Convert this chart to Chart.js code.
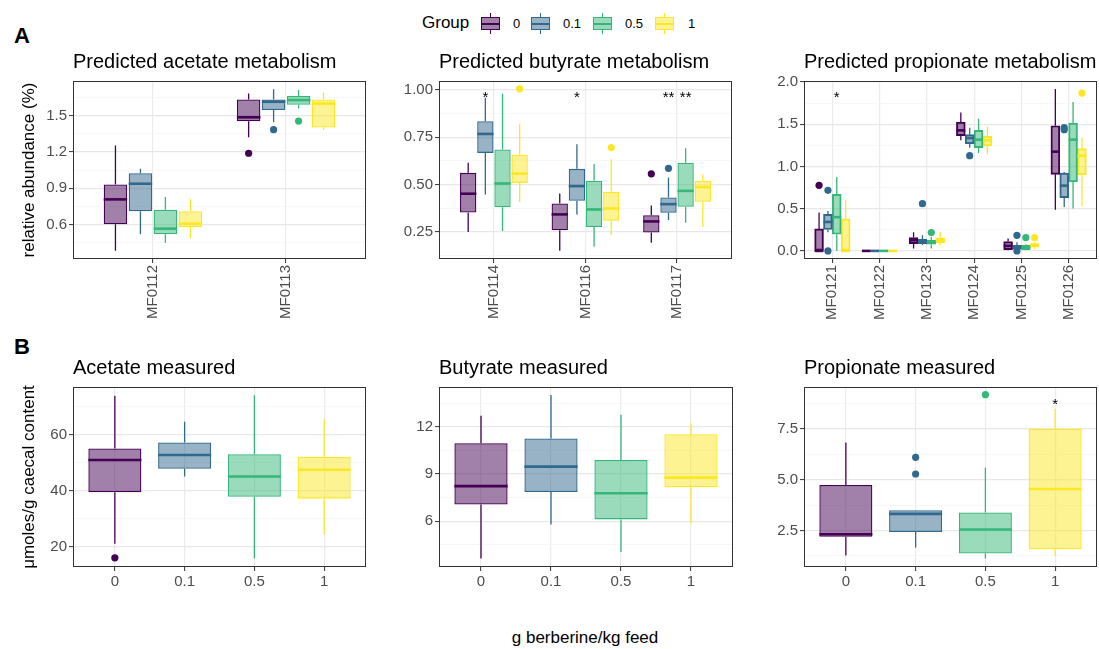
<!DOCTYPE html>
<html>
<head>
<meta charset="utf-8">
<script src="https://cdn.jsdelivr.net/npm/chart.js@4.4.1/dist/chart.umd.min.js"></script>
<style>
  body { margin: 0; background: #fff; width: 1099px; height: 649px; position: relative; overflow: hidden;
         font-family: "Liberation Sans", Arial, sans-serif; color: #000; }
  canvas { position: absolute; }
  .txt { position: absolute; white-space: nowrap; }
  .tag { font-weight: bold; font-size: 22px; line-height: 22px; }
  .key { position: absolute; top: 13px; width: 19px; height: 21px; }
  .key div { position: absolute; box-sizing: border-box; }
</style>
</head>
<body>
<div class="txt tag" style="left:14px; top:25px;">A</div>
<div class="txt tag" style="left:14px; top:336px;">B</div>
<div class="txt" style="left:385px; width:400px; text-align:center; top:629px; font-size:17px; line-height:17px;">g berberine/kg feed</div>
<div id="legend"></div>

<script>
const GROUPS = ["0", "0.1", "0.5", "1"];
const COLORS = ["#440154", "#31688E", "#35B779", "#FDE725"];

// box stats: [lower whisker, q1, median, q3, upper whisker], per group, per category

// A - predicted acetate metabolism
const acetateCats = ["MF0112", "MF0113"];
const acetateBoxes = [
  [[0.384, 0.603, 0.808, 0.931, 1.251], [1.319, 1.451, 1.484, 1.631, 1.68]],
  [[0.521, 0.71, 0.937, 1.024, 1.06], [1.443, 1.544, 1.612, 1.631, 1.716]],
  [[0.45, 0.521, 0.567, 0.723, 0.827], [1.557, 1.588, 1.626, 1.659, 1.708]],
  [[0.485, 0.581, 0.608, 0.71, 0.811], [1.38, 1.40, 1.598, 1.631, 1.686]],
];
const acetateOutliers = [[[], [1.188]], [[], [1.382]], [[], [1.453]], [[], []]];
const acetateYTicks = ["0.6", "0.9", "1.2", "1.5"];

// A - predicted butyrate metabolism
const butyrateCats = ["MF0114", "MF0116", "MF0117"];
const butyrateBoxes = [
  [[0.25, 0.353, 0.452, 0.562, 0.615], [0.152, 0.259, 0.343, 0.401, 0.453], [0.194, 0.248, 0.306, 0.339, 0.39]],
  [[0.448, 0.667, 0.767, 0.834, 0.958], [0.343, 0.415, 0.492, 0.583, 0.713], [0.313, 0.352, 0.397, 0.432, 0.537]],
  [[0.255, 0.381, 0.506, 0.685, 0.979], [0.173, 0.276, 0.369, 0.52, 0.609], [0.299, 0.383, 0.467, 0.615, 0.692]],
  [[0.408, 0.509, 0.558, 0.658, 0.821], [0.234, 0.31, 0.374, 0.462, 0.634], [0.278, 0.41, 0.487, 0.52, 0.553]],
];
const butyrateOutliers = [[[], [], [0.557]], [[], [], [0.586]], [[], [], []], [[1.005], [0.695], []]];
const butyrateYTicks = ["0.25", "0.50", "0.75", "1.00"];
const butyrateStars = [
  { group: 1, cat: 0, label: "*", y: 0.979 },
  { group: 1, cat: 1, label: "*", y: 0.979 },
  { group: 1, cat: 2, label: "**", y: 0.979 },
  { group: 2, cat: 2, label: "**", y: 0.979 },
];

// A - predicted propionate metabolism
const propionateCats = ["MF0121", "MF0122", "MF0123", "MF0124", "MF0125", "MF0126"];
const propionateBoxes = [
  [[0, 0, 0, 0.26, 0.454], [0, 0, 0, 0, 0], [0.028, 0.087, 0.126, 0.158, 0.221],
   [1.31, 1.365, 1.428, 1.527, 1.641], [0.008, 0.016, 0.059, 0.11, 0.146], [0.489, 0.907, 1.176, 1.483, 1.917]],
  [[0.22, 0.253, 0.343, 0.434, 0.473], [0, 0, 0, 0, 0], [0.071, 0.087, 0.118, 0.138, 0.185],
   [1.223, 1.27, 1.337, 1.377, 1.46], [0.008, 0.024, 0.047, 0.067, 0.103], [0.521, 0.631, 0.773, 0.923, 0.935]],
  [[0, 0.197, 0.40, 0.671, 0.876], [0, 0, 0, 0, 0], [0.028, 0.08, 0.099, 0.126, 0.166],
   [1.16, 1.223, 1.318, 1.428, 1.566], [0.008, 0.016, 0.047, 0.067, 0.079], [0.501, 0.817, 1.318, 1.515, 1.763]],
  [[0, 0, 0, 0.379, 0.607], [0, 0, 0, 0, 0], [0.063, 0.095, 0.126, 0.154, 0.225],
   [1.144, 1.243, 1.31, 1.357, 1.475], [0.016, 0.043, 0.067, 0.087, 0.106], [0.529, 0.9, 1.128, 1.211, 1.341]],
];
const propionateOutliers = [
  [[0.777], [], [], [], [], []],
  [[0.718, 0], [], [0.56], [1.128], [0.185, 0], [1.46, 1.436]],
  [[], [], [0.217], [], [0.158], []],
  [[], [], [], [], [0.158], [1.87]],
];
const propionateYTicks = ["0.0", "0.5", "1.0", "1.5", "2.0"];
const propionateStars = [{ group: 2, cat: 0, label: "*", y: 1.86 }];

// B - measured SCFA, one box per group
const acetateMeasured = [[21.1, 39.5, 51.0, 55.1, 73.97], [45.1, 47.9, 52.8, 57.25, 64.66],
                         [15.8, 37.9, 45.1, 53.1, 74.1], [24.4, 37.2, 47.5, 52.2, 65.6]];
const acetateMeasuredOutliers = [[16.06], [], [], []];
const acetateMeasuredYTicks = ["20", "40", "60"];

const butyrateMeasured = [[3.62, 7.06, 8.23, 10.96, 12.70], [5.79, 7.85, 9.47, 11.26, 14.02],
                          [4.04, 6.11, 7.77, 9.89, 12.77], [5.85, 8.15, 8.77, 11.53, 12.21]];
const butyrateMeasuredOutliers = [[], [], [], []];
const butyrateMeasuredYTicks = ["6", "9", "12"];

const propionateMeasured = [[1.27, 2.19, 2.32, 4.74, 6.83], [1.66, 2.43, 3.32, 3.50, 3.50],
                            [1.12, 1.37, 2.55, 3.39, 5.59], [1.25, 1.58, 4.54, 7.5, 8.47]];
const propionateMeasuredOutliers = [[], [6.10, 5.28], [9.18], []];
const propionateMeasuredYTicks = ["2.5", "5.0", "7.5"];
const propionateMeasuredStars = [{ group: 3, cat: 0, label: "*", y: 8.88 }];

const DODGE = 0.75 / 4;
const FONT = "'Liberation Sans', Arial, sans-serif";

function rgba(hex, a) {
  const n = parseInt(hex.slice(1), 16);
  return `rgba(${(n >> 16) & 255}, ${(n >> 8) & 255}, ${n & 255}, ${a})`;
}

const boxParts = {
  id: "boxParts",
  beforeDatasetsDraw(chart) {
    const ctx = chart.ctx;
    const y = chart.scales.y;
    ctx.save();
    chart.data.datasets.forEach((ds, i) => {
      if (!ds.stats) return;
      const meta = chart.getDatasetMeta(i);
      ctx.strokeStyle = ds.borderColor;
      ctx.lineWidth = 1.3;
      meta.data.forEach((el, j) => {
        const s = ds.stats[j];
        ctx.beginPath();
        ctx.moveTo(el.x, y.getPixelForValue(s[3]));
        ctx.lineTo(el.x, y.getPixelForValue(s[4]));
        ctx.moveTo(el.x, y.getPixelForValue(s[1]));
        ctx.lineTo(el.x, y.getPixelForValue(s[0]));
        ctx.stroke();
      });
    });
    ctx.restore();
  },
  afterDatasetsDraw(chart, args, opts) {
    const ctx = chart.ctx;
    const y = chart.scales.y;
    const area = chart.chartArea;
    ctx.save();
    // medians
    chart.data.datasets.forEach((ds, i) => {
      if (!ds.stats) return;
      const meta = chart.getDatasetMeta(i);
      ctx.strokeStyle = ds.borderColor;
      ctx.lineWidth = 2.6;
      meta.data.forEach((el, j) => {
        const py = y.getPixelForValue(ds.stats[j][2]);
        ctx.beginPath();
        ctx.moveTo(el.x - el.width / 2, py);
        ctx.lineTo(el.x + el.width / 2, py);
        ctx.stroke();
      });
    });
    // significance marks
    ctx.fillStyle = "#000";
    ctx.font = "15px " + FONT;
    ctx.textAlign = "center";
    ctx.textBaseline = "alphabetic";
    (opts.stars || []).forEach((st) => {
      const el = chart.getDatasetMeta(st.group).data[st.cat];
      ctx.fillText(st.label, el.x, y.getPixelForValue(st.y) + 8);
    });
    // panel border
    ctx.strokeStyle = "#333333";
    ctx.lineWidth = 1;
    ctx.strokeRect(Math.round(area.left) + 0.5, Math.round(area.top) + 0.5,
      Math.round(area.right - area.left) - 1, Math.round(area.bottom - area.top) - 1);
    // panel title
    ctx.font = "20px " + FONT;
    ctx.textAlign = "left";
    ctx.fillText(opts.title, area.left, area.top - 13);
    ctx.restore();
  },
};

function createPanel(p) {
  const w = p.yw + (p.right - p.left) + 3;
  const h = 45 + (p.bottom - p.top) + p.xh;
  const canvas = document.createElement("canvas");
  canvas.width = w;
  canvas.height = h;
  canvas.style.left = p.left - p.yw + "px";
  canvas.style.top = p.top - 45 + "px";
  canvas.style.width = w + "px";
  canvas.style.height = h + "px";
  document.body.appendChild(canvas);

  const xOf = (gi, ci) => (p.dodge ? ci + 1 + (gi - 1.5) * DODGE : gi + 1);

  const datasets = [];
  GROUPS.forEach((g, gi) => {
    datasets.push({
      type: "bar",
      label: g,
      data: p.boxes[gi].map((s, ci) => ({ x: xOf(gi, ci), y: [s[1], s[3]] })),
      stats: p.boxes[gi],
      backgroundColor: rgba(COLORS[gi], 0.5),
      borderColor: COLORS[gi],
      borderWidth: 1.3,
      borderSkipped: false,
      grouped: false,
      barPercentage: p.barPct,
      categoryPercentage: 1,
    });
  });
  GROUPS.forEach((g, gi) => {
    const pts = [];
    p.outliers[gi].forEach((vals, ci) => vals.forEach((v) => pts.push({ x: xOf(gi, ci), y: v })));
    datasets.push({
      type: "scatter",
      data: pts,
      backgroundColor: COLORS[gi],
      borderWidth: 0,
      pointRadius: 3.6,
    });
  });

  const majors = p.yTicks.map(Number);
  const step = majors[1] - majors[0];
  const minors = [majors[0] - step / 2].concat(majors.map((m) => m + step / 2));
  const allTicks = majors.concat(minors).filter((v) => v >= p.yMin && v <= p.yMax).sort((a, b) => a - b);
  const isMajor = (v) => majors.some((m) => Math.abs(m - v) < 1e-9);
  const labelOf = (v) => {
    const i = majors.findIndex((m) => Math.abs(m - v) < 1e-9);
    return i < 0 ? "" : p.yTicks[i];
  };
  const labels = p.dodge ? p.cats : GROUPS;

  new Chart(canvas.getContext("2d"), {
    type: "bar",
    data: { datasets: datasets },
    options: {
      responsive: false,
      animation: false,
      events: [],
      layout: { padding: { left: 0, top: 45, right: 3, bottom: 0 } },
      plugins: {
        legend: { display: false },
        tooltip: { enabled: false },
        boxParts: { title: p.title, stars: p.stars },
      },
      scales: {
        x: {
          type: "linear",
          offset: false,
          min: 0.4,
          max: labels.length + 0.6,
          afterBuildTicks: (axis) => {
            axis.ticks = labels.map((l, i) => ({ value: i + 1 }));
          },
          afterFit: (scale) => {
            scale.height = p.xh;
          },
          ticks: {
            autoSkip: false,
            minRotation: p.dodge ? 90 : 0,
            maxRotation: p.dodge ? 90 : 0,
            padding: 2,
            color: "#4d4d4d",
            font: { family: FONT, size: 15 },
            callback: (v) => labels[Math.round(v) - 1],
          },
          grid: { offset: false, color: "#ebebeb", lineWidth: 1.2, tickColor: "#333333", tickLength: 4, tickWidth: 1 },
          border: { display: false },
        },
        y: {
          type: "linear",
          min: p.yMin,
          max: p.yMax,
          afterBuildTicks: (axis) => {
            axis.ticks = allTicks.map((v) => ({ value: v }));
          },
          afterFit: (scale) => {
            scale.width = p.yw;
          },
          ticks: {
            autoSkip: false,
            padding: 2,
            color: "#4d4d4d",
            font: { family: FONT, size: 15 },
            callback: (v) => labelOf(v),
          },
          grid: {
            color: (c) => (isMajor(c.tick.value) ? "#e8e8e8" : "#f3f3f3"),
            lineWidth: (c) => (isMajor(c.tick.value) ? 1.2 : 0.7),
            tickColor: (c) => (isMajor(c.tick.value) ? "#333333" : "rgba(0,0,0,0)"),
            tickLength: 4,
            tickWidth: 1,
          },
          border: { display: false },
          title: {
            display: !!p.yTitle,
            text: p.yTitle || "",
            color: "#000",
            font: { family: FONT, size: 17 },
            padding: { top: 19, bottom: 0 },
          },
        },
      },
    },
    plugins: [boxParts],
  });
}

const rowA = { top: 81, bottom: 259, xh: 65, dodge: true };
const rowB = { top: 387, bottom: 567, xh: 30, dodge: false, barPct: 0.76 };

createPanel(Object.assign({}, rowA, {
  left: 73, right: 367, yw: 73, title: "Predicted acetate metabolism", yTitle: "relative abundance (%)",
  cats: acetateCats, boxes: acetateBoxes, outliers: acetateOutliers, yTicks: acetateYTicks,
  yMin: 0.317, yMax: 1.783, barPct: 0.94,
}));
createPanel(Object.assign({}, rowA, {
  left: 439, right: 733, yw: 60, title: "Predicted butyrate metabolism",
  cats: butyrateCats, boxes: butyrateBoxes, outliers: butyrateOutliers, yTicks: butyrateYTicks,
  yMin: 0.108, yMax: 1.046, barPct: 0.95, stars: butyrateStars,
}));
createPanel(Object.assign({}, rowA, {
  left: 804, right: 1098, yw: 60, title: "Predicted propionate metabolism",
  cats: propionateCats, boxes: propionateBoxes, outliers: propionateOutliers, yTicks: propionateYTicks,
  yMin: -0.096, yMax: 2.013, barPct: 1.0, stars: propionateStars,
}));
createPanel(Object.assign({}, rowB, {
  left: 73, right: 367, yw: 73, title: "Acetate measured", yTitle: "\u03bcmoles/g caecal content",
  boxes: acetateMeasured.map((s) => [s]), outliers: acetateMeasuredOutliers.map((o) => [o]),
  yTicks: acetateMeasuredYTicks, yMin: 12.8, yMax: 77.07,
}));
createPanel(Object.assign({}, rowB, {
  left: 439, right: 733, yw: 60, title: "Butyrate measured",
  boxes: butyrateMeasured.map((s) => [s]), outliers: butyrateMeasuredOutliers.map((o) => [o]),
  yTicks: butyrateMeasuredYTicks, yMin: 3.085, yMax: 14.53,
}));
createPanel(Object.assign({}, rowB, {
  left: 804, right: 1098, yw: 60, title: "Propionate measured",
  boxes: propionateMeasured.map((s) => [s]), outliers: propionateMeasuredOutliers.map((o) => [o]),
  yTicks: propionateMeasuredYTicks, yMin: 0.707, yMax: 9.556, stars: propionateMeasuredStars,
}));

// shared legend
const legend = document.getElementById("legend");
const keyX = [481, 531, 593, 655];
const labelX = [513, 563, 625, 688];
let html = '<div class="txt" style="left:422px; top:14px; font-size:17px; line-height:17px;">Group</div>';
GROUPS.forEach((g, gi) => {
  const c = COLORS[gi];
  html += `<div class="key" style="left:${keyX[gi]}px;">` +
    `<div style="left:8.5px; top:0; width:1.5px; height:21px; background:${c};"></div>` +
    `<div style="left:0; top:4px; width:19px; height:13px; border:1.4px solid ${c}; background:#fff;"></div>` +
    `<div style="left:0; top:4px; width:19px; height:13px; border:1.4px solid ${c}; background:${rgba(c, 0.5)};"></div>` +
    `<div style="left:0; top:9.5px; width:19px; height:2px; background:${c};"></div>` +
    `</div>`;
  html += `<div class="txt" style="left:${labelX[gi]}px; top:17px; font-size:13px; line-height:13px;">${g}</div>`;
});
legend.innerHTML = html;
</script>
</body>
</html>
